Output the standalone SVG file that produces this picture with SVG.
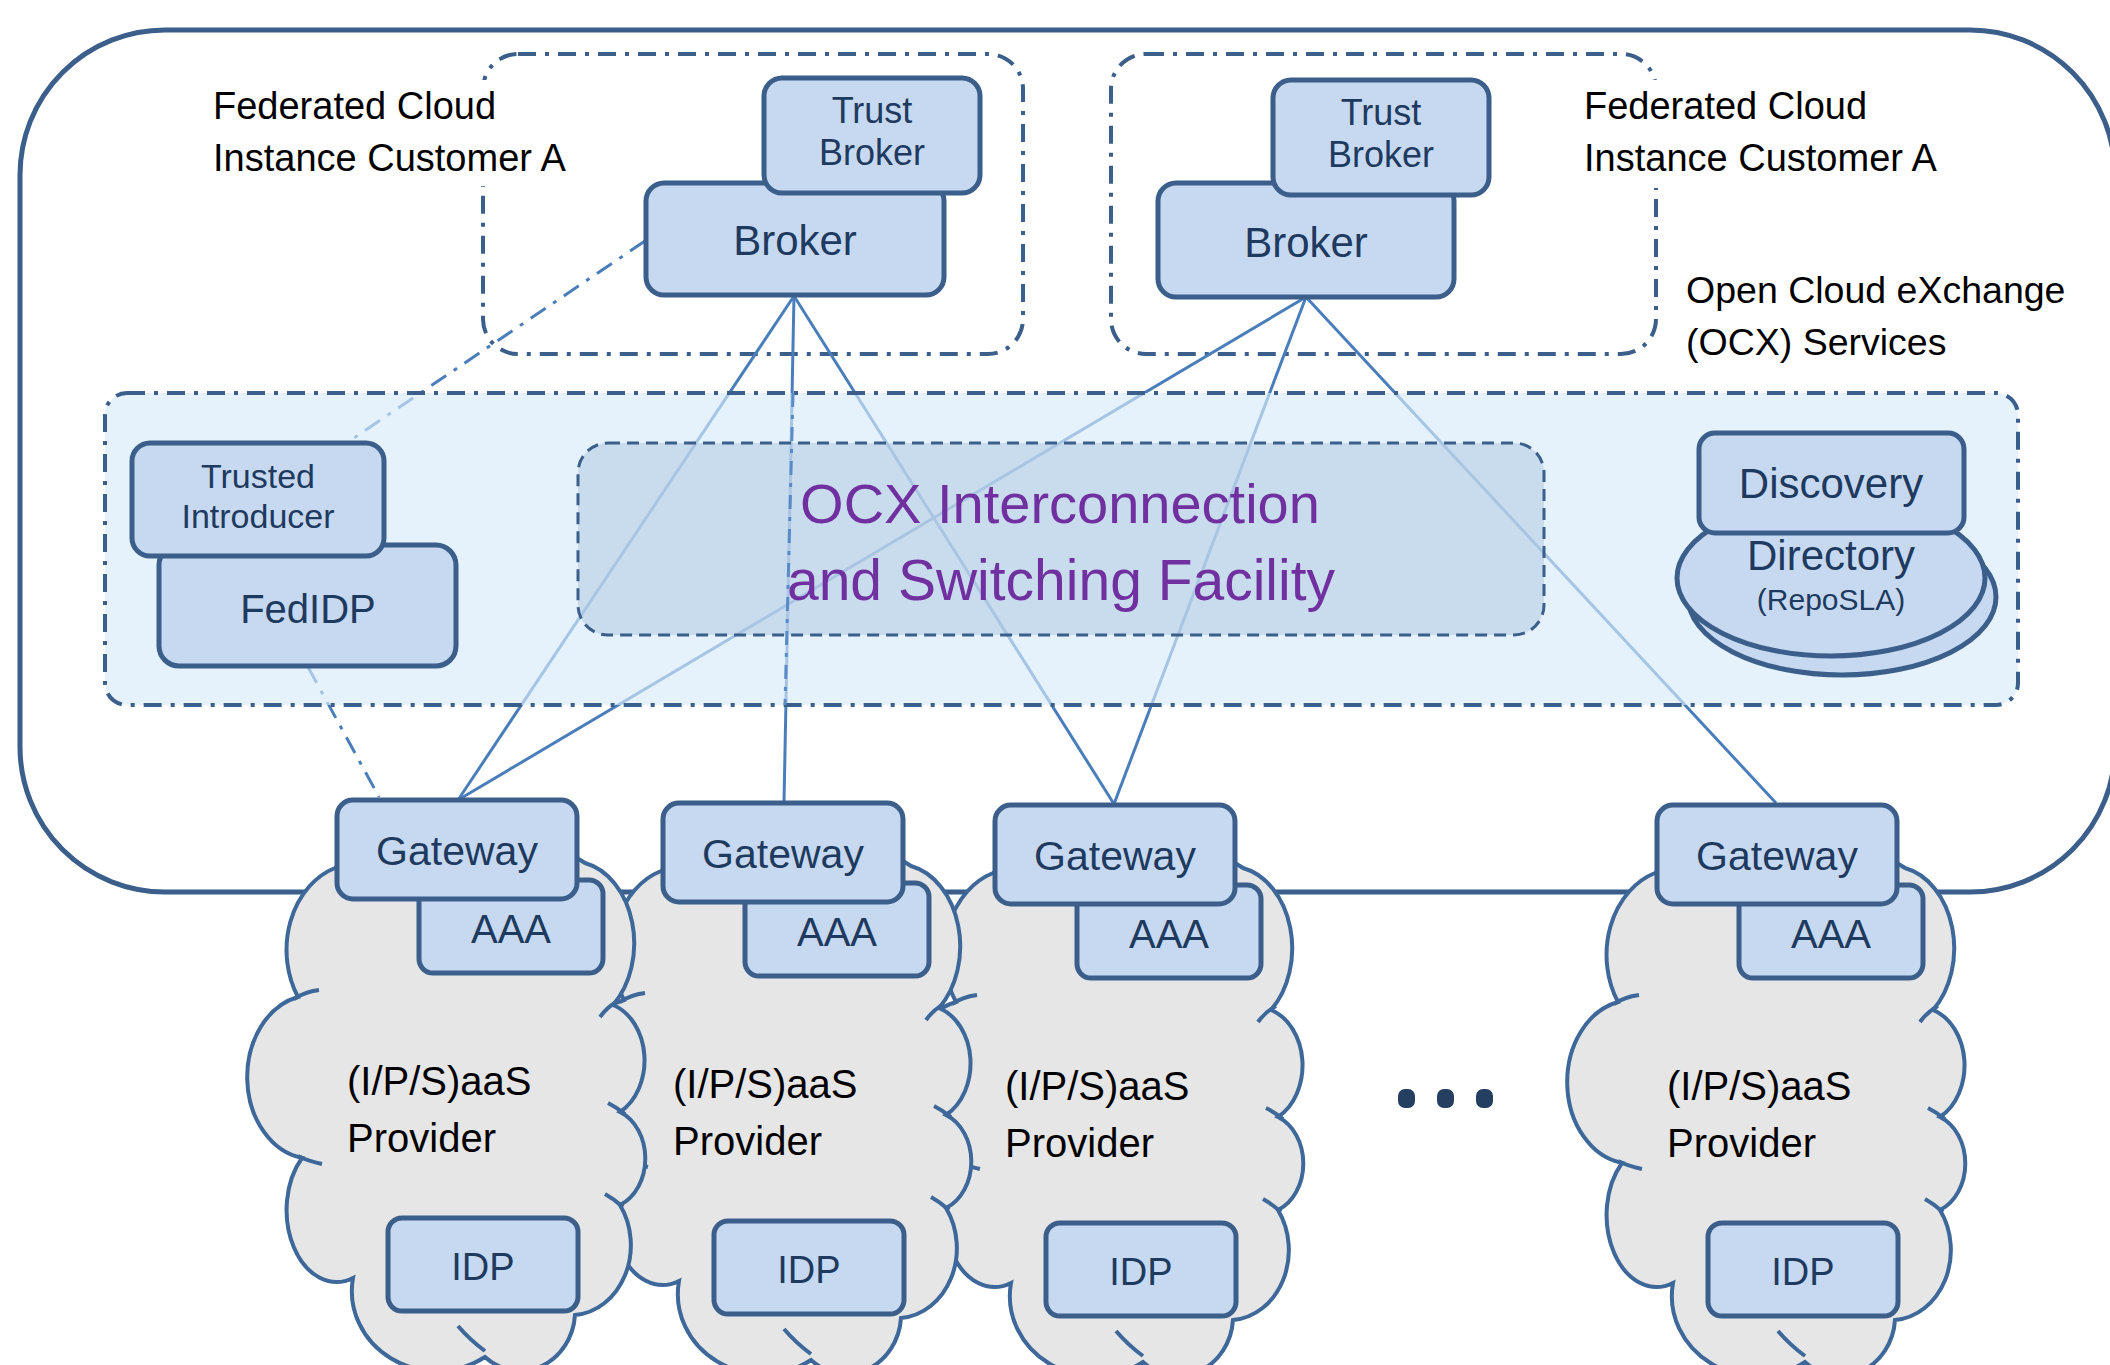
<svg xmlns="http://www.w3.org/2000/svg" width="2110" height="1365" viewBox="0 0 2110 1365">
<defs>
<style>
.node{fill:#c6d9f0;stroke:#3b5f8a;stroke-width:5}
.nt{font-family:"Liberation Sans",Arial,sans-serif;fill:#1f3a5f;text-anchor:middle}
.lbl{font-family:"Liberation Sans",Arial,sans-serif;fill:#000}
.conn{stroke:#4a7ebb;stroke-width:3;fill:none}
.dd{stroke-dasharray:18 9 4 9}
.fed{fill:none;stroke:#3b5f8a;stroke-width:4;stroke-dasharray:18 9 4 9}
.cloud{fill:#e6e6e6;stroke:#3d6899;stroke-width:4}
.tick{fill:none;stroke:#3d6899;stroke-width:4}
.dot{fill:#243f60}
</style>
<g id="cloudshape">
<path class="cloud" d="M 1655 873 A 100 45 0 0 1 1775 852 A 100 45 0 0 1 1905 868 A 62 82 0 0 1 1933 1010 A 45 58 0 0 1 1940 1117 A 40 50 0 0 1 1940 1210 A 60 70 0 0 1 1895 1320 A 55 60 0 0 1 1805 1362 A 85 80 0 0 1 1673 1283 A 50 72 0 0 1 1622 1163 A 65 82 0 0 1 1618 1002 A 70 86 0 0 1 1655 873 Z"/>
<path class="tick" d="M 1614 1004 Q 1624 997 1639 995 M 1618 1161 Q 1628 1166 1642 1169 M 1920 1022 Q 1927 1012 1938 1006 M 1928 1108 Q 1936 1112 1945 1119 M 1925 1199 Q 1934 1204 1943 1212 M 1778 1331 Q 1790 1345 1805 1356"/>
</g>
</defs>
<rect width="2110" height="1365" fill="#fff"/>

<g id="outer">
<rect x="20" y="30" width="2095" height="862" rx="145" ry="145" fill="none" stroke="#3b5f8a" stroke-width="5"/>
</g>

<g id="federated-a">
<rect class="fed" x="483" y="54" width="540" height="300" rx="35"/>
<rect x="205" y="80" width="372" height="106" fill="#fff"/>
<text class="lbl" font-size="38"><tspan x="213" y="119">Federated Cloud</tspan><tspan x="213" y="171">Instance Customer A</tspan></text>
</g>
<g id="federated-b">
<rect class="fed" x="1111" y="54" width="545" height="300" rx="35"/>
<rect x="1576" y="80" width="372" height="108" fill="#fff"/>
<text class="lbl" font-size="38"><tspan x="1584" y="119">Federated Cloud</tspan><tspan x="1584" y="171">Instance Customer A</tspan></text>
</g>
<g id="ocx-label">
<text class="lbl" font-size="37.5"><tspan x="1686" y="303">Open Cloud eXchange</tspan><tspan x="1686" y="355">(OCX) Services</tspan></text>
</g>

<g id="connectors">
<line class="conn" x1="794" y1="296" x2="458" y2="800"/>
<line class="conn" x1="794" y1="296" x2="784" y2="802"/>
<line class="conn" x1="794" y1="296" x2="1114" y2="804"/>
<line class="conn" x1="1306" y1="297" x2="458" y2="800"/>
<line class="conn" x1="1306" y1="297" x2="1114" y2="804"/>
<line class="conn" x1="1306" y1="297" x2="1776" y2="803"/>
<line class="conn dd" x1="645" y1="241" x2="348" y2="442"/>
<line class="conn dd" x1="308" y1="667" x2="379" y2="797"/>
</g>

<g id="ocx-services">
<rect x="105" y="393" width="1913" height="312" rx="22" fill="#d7ebfa" fill-opacity="0.65" stroke="#3b5f8a" stroke-width="4" stroke-dasharray="18 9 4 9"/>
</g>
<g id="ocx-interconnection">
<rect x="578" y="443" width="966" height="192" rx="30" fill="#adc6e0" fill-opacity="0.5" stroke="#3b5f8a" stroke-width="3" stroke-dasharray="12 7"/>
<text font-family="Liberation Sans, Arial, sans-serif" fill="#7030a0" text-anchor="middle"><tspan x="1060" y="523" font-size="56">OCX Interconnection</tspan><tspan x="1061" y="600" font-size="57">and Switching Facility</tspan></text>
</g>
<g id="connector-overlay">
<line x1="793" y1="393" x2="785" y2="705" stroke="#5a8ac8" stroke-width="3" stroke-dasharray="14 8 4 8"/>
</g>

<g id="broker-a">
<rect class="node" x="646" y="183" width="298" height="112" rx="18"/>
<text class="nt" x="795" y="255" font-size="42">Broker</text>
</g>
<g id="trust-broker-a">
<rect class="node" x="764" y="78" width="216" height="115" rx="18"/>
<text class="nt" font-size="36"><tspan x="872" y="123">Trust</tspan><tspan x="872" y="165">Broker</tspan></text>
</g>
<g id="broker-b">
<rect class="node" x="1158" y="183" width="296" height="114" rx="18"/>
<text class="nt" x="1306" y="257" font-size="42">Broker</text>
</g>
<g id="trust-broker-b">
<rect class="node" x="1273" y="80" width="216" height="115" rx="18"/>
<text class="nt" font-size="36"><tspan x="1381" y="125">Trust</tspan><tspan x="1381" y="167">Broker</tspan></text>
</g>

<g id="fedidp">
<rect class="node" x="159" y="545" width="297" height="121" rx="20"/>
<text class="nt" x="308" y="623" font-size="40">FedIDP</text>
</g>
<g id="trusted-introducer">
<rect class="node" x="132" y="443" width="252" height="113" rx="18"/>
<text class="nt" font-size="34"><tspan x="258" y="488">Trusted</tspan><tspan x="258" y="528">Introducer</tspan></text>
</g>

<g id="directory">
<ellipse class="node" cx="1842" cy="597" rx="154" ry="78"/>
<ellipse class="node" cx="1831" cy="578" rx="154" ry="78"/>
<text class="nt"><tspan x="1831" y="570" font-size="42">Directory</tspan><tspan x="1831" y="610" font-size="30">(RepoSLA)</tspan></text>
</g>
<g id="discovery">
<rect class="node" x="1699" y="433" width="265" height="100" rx="16"/>
<text class="nt" x="1831" y="498" font-size="42">Discovery</text>
</g>

<g id="provider-4">
<use href="#cloudshape"/>
<rect class="node" x="1739" y="885" width="184" height="93" rx="14"/>
<text class="nt" x="1831" y="948" font-size="40">AAA</text>
<rect class="node" x="1657" y="805" width="240" height="99" rx="16"/>
<text class="nt" x="1777" y="870" font-size="41">Gateway</text>
<rect class="node" x="1708" y="1223" width="190" height="93" rx="14"/>
<text class="nt" x="1803" y="1285" font-size="38">IDP</text>
<text class="lbl" font-size="40"><tspan x="1667" y="1100">(I/P/S)aaS</tspan><tspan x="1667" y="1157">Provider</tspan></text>
</g>
<g id="provider-3" transform="translate(-662,0)">
<use href="#cloudshape"/>
<rect class="node" x="1739" y="885" width="184" height="93" rx="14"/>
<text class="nt" x="1831" y="948" font-size="40">AAA</text>
<rect class="node" x="1657" y="805" width="240" height="99" rx="16"/>
<text class="nt" x="1777" y="870" font-size="41">Gateway</text>
<rect class="node" x="1708" y="1223" width="190" height="93" rx="14"/>
<text class="nt" x="1803" y="1285" font-size="38">IDP</text>
<text class="lbl" font-size="40"><tspan x="1667" y="1100">(I/P/S)aaS</tspan><tspan x="1667" y="1157">Provider</tspan></text>
</g>
<g id="provider-2" transform="translate(-994,-2)">
<use href="#cloudshape"/>
<rect class="node" x="1739" y="885" width="184" height="93" rx="14"/>
<text class="nt" x="1831" y="948" font-size="40">AAA</text>
<rect class="node" x="1657" y="805" width="240" height="99" rx="16"/>
<text class="nt" x="1777" y="870" font-size="41">Gateway</text>
<rect class="node" x="1708" y="1223" width="190" height="93" rx="14"/>
<text class="nt" x="1803" y="1285" font-size="38">IDP</text>
<text class="lbl" font-size="40"><tspan x="1667" y="1100">(I/P/S)aaS</tspan><tspan x="1667" y="1157">Provider</tspan></text>
</g>
<g id="provider-1" transform="translate(-1320,-5)">
<use href="#cloudshape"/>
<rect class="node" x="1739" y="885" width="184" height="93" rx="14"/>
<text class="nt" x="1831" y="948" font-size="40">AAA</text>
<rect class="node" x="1657" y="805" width="240" height="99" rx="16"/>
<text class="nt" x="1777" y="870" font-size="41">Gateway</text>
<rect class="node" x="1708" y="1223" width="190" height="93" rx="14"/>
<text class="nt" x="1803" y="1285" font-size="38">IDP</text>
<text class="lbl" font-size="40"><tspan x="1667" y="1100">(I/P/S)aaS</tspan><tspan x="1667" y="1157">Provider</tspan></text>
</g>

<g id="ellipsis">
<rect class="dot" x="1398" y="1089" width="17" height="19" rx="7"/>
<rect class="dot" x="1437" y="1089" width="17" height="19" rx="7"/>
<rect class="dot" x="1476" y="1089" width="17" height="19" rx="7"/>
</g>
</svg>
